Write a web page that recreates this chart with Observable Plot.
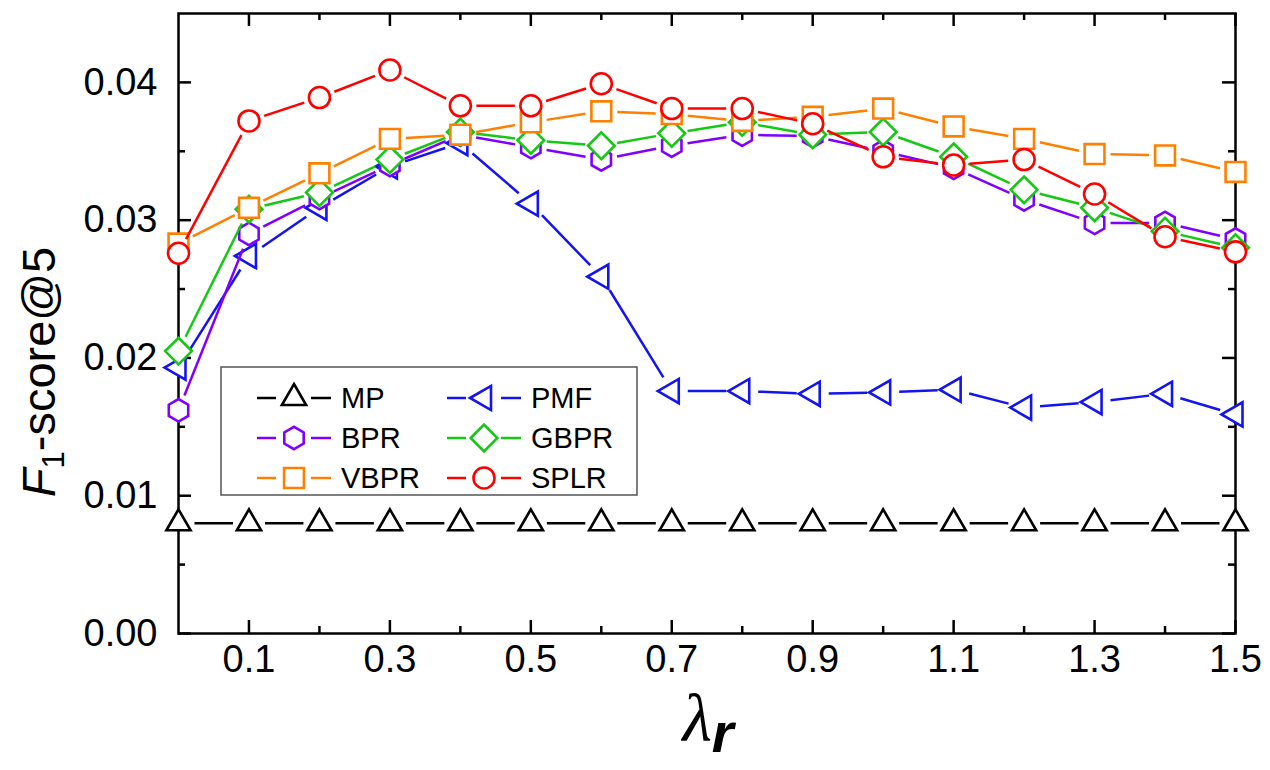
<!DOCTYPE html>
<html><head><meta charset="utf-8">
<script src="https://cdn.jsdelivr.net/npm/d3@7"></script>
<script src="https://cdn.jsdelivr.net/npm/@observablehq/plot@0.6"></script>
<style>body{margin:0;background:#fff;} svg{display:block;}</style>
</head><body><div id="chart"></div>
<script>
// ---- data ----
const lambdas = [0, 0.1, 0.2, 0.3, 0.4, 0.5, 0.6, 0.7, 0.8, 0.9, 1.0, 1.1, 1.2, 1.3, 1.4, 1.5];
const MP   = [0.0080, 0.0080, 0.0080, 0.0080, 0.0080, 0.0080, 0.0080, 0.0080, 0.0080, 0.0080, 0.0080, 0.0080, 0.0080, 0.0080, 0.0080, 0.0080];
const PMF  = [0.0193, 0.0274, 0.0309, 0.0339, 0.0356, 0.0312, 0.0259, 0.0176, 0.0176, 0.0174, 0.0175, 0.0177, 0.0164, 0.0168, 0.0174, 0.0159];
const BPR  = [0.0162, 0.0290, 0.0316, 0.0340, 0.0362, 0.0353, 0.0344, 0.0354, 0.0362, 0.0361, 0.0350, 0.0338, 0.0315, 0.0298, 0.0298, 0.0286];
const GBPR = [0.0205, 0.0308, 0.0320, 0.0344, 0.0364, 0.0358, 0.0354, 0.0363, 0.0371, 0.0362, 0.0364, 0.0346, 0.0322, 0.0309, 0.0292, 0.0280];
const VBPR = [0.0283, 0.0309, 0.0334, 0.0359, 0.0362, 0.0371, 0.0379, 0.0377, 0.0372, 0.0375, 0.0381, 0.0368, 0.0359, 0.0348, 0.0347, 0.0335];
const SPLR = [0.0276, 0.0372, 0.0389, 0.0409, 0.0383, 0.0383, 0.0399, 0.0381, 0.0381, 0.0370, 0.0346, 0.0340, 0.0344, 0.0319, 0.0288, 0.0277];
const xTickLabels = [0.1, 0.3, 0.5, 0.7, 0.9, 1.1, 1.3, 1.5];
const xMinorTicks = [0.2, 0.4, 0.6, 0.8, 1.0, 1.2, 1.4];
const yTickLabels = [0, 0.01, 0.02, 0.03, 0.04];
const yMinorTicks = [0.005, 0.015, 0.025, 0.035];
const drawOrder = ["MP", "PMF", "BPR", "GBPR", "VBPR", "SPLR"];
const legendRows = [["MP", "PMF"], ["BPR", "GBPR"], ["VBPR", "SPLR"]];

// ---- styles ----
const valuesByName = {MP, PMF, BPR, GBPR, VBPR, SPLR};
const styles = {
  MP:   {color: "#000000", symbol: "triangle", r: 9,    rotate: 0},
  PMF:  {color: "#1414F0", symbol: "triangle", r: 9,    rotate: -90},
  BPR:  {color: "#7F00FF", symbol: "hexagon",  r: 9.7,  rotate: 0},
  GBPR: {color: "#14C814", symbol: "diamond2", r: 12,   rotate: 0},
  VBPR: {color: "#FF8000", symbol: "square",   r: 11.2, rotate: 0},
  SPLR: {color: "#FF0000", symbol: "circle",   r: 10.5, rotate: 0}
};
const FONT = "Liberation Sans, Arial, sans-serif";
const W = 1270, H = 770, ML = 178, MR = 35, MT = 13, MB = 137;
const PW = W - ML - MR, PH = H - MT - MB;

const marks = [];
// ticks (inward)
const tick = (arr, len, side) => {
  if (side === "bottom") return Plot.tickX(arr, {x: d => d, insetTop: PH - len, stroke: "#000", strokeWidth: 2.5});
  if (side === "top") return Plot.tickX(arr, {x: d => d, insetBottom: PH - len, stroke: "#000", strokeWidth: 2.5});
  if (side === "left") return Plot.tickY(arr, {y: d => d, insetRight: PW - len, stroke: "#000", strokeWidth: 2.5});
  return Plot.tickY(arr, {y: d => d, insetLeft: PW - len, stroke: "#000", strokeWidth: 2.5});
};
for (const side of ["bottom", "top"]) { marks.push(tick(xTickLabels, 13, side), tick(xMinorTicks, 7, side)); }
for (const side of ["left", "right"]) { marks.push(tick(yTickLabels, 13, side), tick(yMinorTicks, 7, side)); }
marks.push(Plot.frame({stroke: "#000", strokeWidth: 2.5}));
marks.push(Plot.axisX(xTickLabels, {tickSize: 0, tickPadding: 12, fontSize: 38, tickFormat: d3.format(".1f"), label: null}));
marks.push(Plot.axisY(yTickLabels, {tickSize: 0, tickPadding: 21, fontSize: 38, tickFormat: d3.format(".2f"), label: null}));

for (const name of drawOrder) {
  const vals = valuesByName[name];
  const st = styles[name];
  const pts = lambdas.map((x, i) => ({x, y: vals[i]}));
  const segs = pts.slice(1).map((p, i) => ({x1: pts[i].x, y1: pts[i].y, x2: p.x, y2: p.y}));
  marks.push(Plot.arrow(segs, {x1: "x1", y1: "y1", x2: "x2", y2: "y2", headLength: 0, inset: 16,
    stroke: st.color, strokeWidth: 2.5, strokeLinecap: "butt"}));
  marks.push(Plot.dot(pts, {x: "x", y: "y", symbol: () => st.symbol, r: st.r, rotate: st.rotate,
    stroke: st.color, fill: "white", strokeWidth: 2.6}));
}

const chart = Plot.plot({
  width: W, height: H, marginLeft: ML, marginRight: MR, marginTop: MT, marginBottom: MB,
  style: {fontFamily: FONT, color: "#000", background: "#fff", overflow: "visible"},
  x: {domain: [0, 1.5]},
  y: {domain: [0, 0.045]},
  marks
});
document.getElementById("chart").appendChild(chart);

// ---- labels and legend ----
const svg = d3.select(chart);
const yl = svg.append("text").attr("transform", "translate(55,372) rotate(-90)")
  .attr("text-anchor", "middle").attr("font-family", FONT).attr("font-size", 47).attr("fill", "#000");
yl.append("tspan").attr("font-style", "italic").text("F");
yl.append("tspan").attr("font-size", 31).attr("dy", 9).text("1");
yl.append("tspan").attr("dy", -9).text("-score@5");

const xl = svg.append("text").attr("x", 708).attr("y", 741).attr("text-anchor", "middle").attr("fill", "#000");
xl.append("tspan").attr("font-family", "Liberation Serif, serif").attr("font-style", "italic").attr("font-size", 68).text("λ");
xl.append("tspan").attr("font-family", FONT).attr("font-style", "italic").attr("font-weight", "bold").attr("font-size", 56).attr("dy", 11).text("r");

const sqrt4_3 = 2 / Math.sqrt(3);
const hexagon = {draw(ctx, size) { const rx = Math.sqrt(size / Math.PI), ry = rx * sqrt4_3, hy = ry / 2;
  ctx.moveTo(0, ry); ctx.lineTo(rx, hy); ctx.lineTo(rx, -hy); ctx.lineTo(0, -ry); ctx.lineTo(-rx, -hy); ctx.lineTo(-rx, hy); ctx.closePath(); }};
const symType = {triangle: d3.symbolTriangle, hexagon, diamond2: d3.symbolDiamond2, square: d3.symbolSquare, circle: d3.symbolCircle};

const lg = svg.append("g");
lg.append("rect").attr("x", 221).attr("y", 367).attr("width", 416).attr("height", 128)
  .attr("fill", "white").attr("stroke", "#555").attr("stroke-width", 1.5);
legendRows.forEach((row, ri) => row.forEach((name, ci) => {
  const st = styles[name];
  const cx = 294 + ci * 190, cy = 398 + ri * 40;
  lg.append("line").attr("x1", cx - 37).attr("x2", cx - 18).attr("y1", cy).attr("y2", cy).attr("stroke", st.color).attr("stroke-width", 2.5);
  lg.append("line").attr("x1", cx + 17).attr("x2", cx + 37).attr("y1", cy).attr("y2", cy).attr("stroke", st.color).attr("stroke-width", 2.5);
  lg.append("path").attr("d", d3.symbol(symType[st.symbol], Math.PI * st.r * st.r)())
    .attr("transform", `translate(${cx},${cy}) rotate(${st.rotate})`)
    .attr("fill", "white").attr("stroke", st.color).attr("stroke-width", 2.6);
  lg.append("text").attr("x", cx + 47).attr("y", cy).attr("dy", "0.36em").attr("text-anchor", "start")
    .attr("font-family", FONT).attr("font-size", 29).attr("fill", "#000").text(name);
}));
</script></body></html>
